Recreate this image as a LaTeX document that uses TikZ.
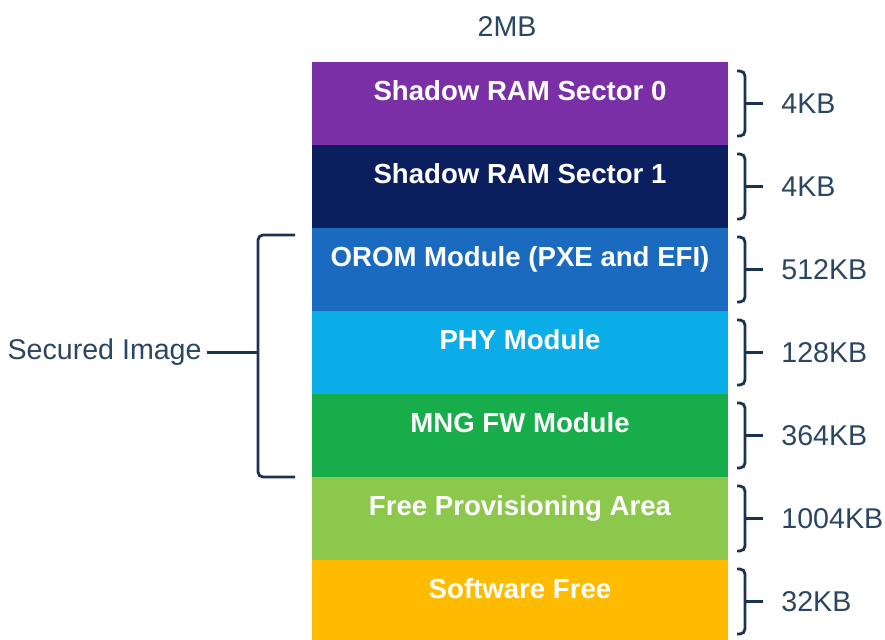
\documentclass[tikz,border=0pt]{standalone}
\usepackage{fontspec}
\setmainfont{Liberation Sans}
\usetikzlibrary{positioning}
\definecolor{ramsector0}{HTML}{7B2FA6}
\definecolor{ramsector1}{HTML}{0B1F5E}
\definecolor{orommod}{HTML}{1A6BBF}
\definecolor{phymod}{HTML}{0AADE8}
\definecolor{mngmod}{HTML}{17AD4B}
\definecolor{provarea}{HTML}{8CC84B}
\definecolor{swfree}{HTML}{FFBB00}
\definecolor{labelblue}{HTML}{2A4662}
\definecolor{braceblue}{HTML}{1A3352}
\tikzset{
  memarea/.style={minimum width=208pt,inner xsep=0pt,inner ysep=0pt,outer sep=0pt,
    text height=19pt,text depth=22.5pt,text=white,font=\bfseries\fontsize{13.8}{16}\selectfont},
  sizelabel/.style={inner sep=0pt,text=labelblue,font=\fontsize{14.3}{17}\selectfont},
  bracket/.style={draw=braceblue,line width=1.4pt,rounded corners=2.5pt}
}
\begin{document}
\begin{tikzpicture}[x=0.5pt,y=-0.5pt]
\useasboundingbox (0,0) rectangle (885,639);
% flash map
\node[memarea,fill=ramsector0,anchor=north] (b1) at (520,62) {Shadow RAM Sector 0};
\node[memarea,fill=ramsector1,below=0pt of b1] (b2) {Shadow RAM Sector 1};
\node[memarea,fill=orommod,below=0pt of b2] (b3) {OROM Module (PXE and EFI)};
\node[memarea,fill=phymod,below=0pt of b3] (b4) {PHY Module};
\node[memarea,fill=mngmod,below=0pt of b4] (b5) {MNG FW Module};
\node[memarea,fill=provarea,below=0pt of b5] (b6) {Free Provisioning Area};
\node[memarea,fill=swfree,below=0pt of b6] (b7) {Software Free};
\node[sizelabel,above=12.5pt of b1.north,xshift=-6.5pt] (total) {2MB};
% sizes
\node[sizelabel,right=26.5pt of b1.east] (s1) {4KB};
\node[sizelabel,right=26.5pt of b2.east] (s2) {4KB};
\node[sizelabel,right=26.5pt of b3.east] (s3) {512KB};
\node[sizelabel,right=26.5pt of b4.east] (s4) {128KB};
\node[sizelabel,right=26.5pt of b5.east] (s5) {364KB};
\node[sizelabel,right=26.5pt of b6.east] (s6) {1004KB};
\node[sizelabel,right=26.5pt of b7.east] (s7) {32KB};
\draw[bracket] ([shift={(9,9)}]b1.north east) -| ([shift={(17,-9)}]b1.south east) -- ++(-8,0);
\draw[bracket] ([shift={(9,9)}]b2.north east) -| ([shift={(17,-9)}]b2.south east) -- ++(-8,0);
\draw[bracket] ([shift={(9,9)}]b3.north east) -| ([shift={(17,-9)}]b3.south east) -- ++(-8,0);
\draw[bracket] ([shift={(9,9)}]b4.north east) -| ([shift={(17,-9)}]b4.south east) -- ++(-8,0);
\draw[bracket] ([shift={(9,9)}]b5.north east) -| ([shift={(17,-9)}]b5.south east) -- ++(-8,0);
\draw[bracket] ([shift={(9,9)}]b6.north east) -| ([shift={(17,-9)}]b6.south east) -- ++(-8,0);
\draw[bracket] ([shift={(9,9)}]b7.north east) -| ([shift={(17,-9)}]b7.south east) -- ++(-8,0);
\draw[bracket,shorten >=9pt] ([xshift=8.5pt]b1.east) -- (s1.west);
\draw[bracket,shorten >=9pt] ([xshift=8.5pt]b2.east) -- (s2.west);
\draw[bracket,shorten >=9pt] ([xshift=8.5pt]b3.east) -- (s3.west);
\draw[bracket,shorten >=9pt] ([xshift=8.5pt]b4.east) -- (s4.west);
\draw[bracket,shorten >=9pt] ([xshift=8.5pt]b5.east) -- (s5.west);
\draw[bracket,shorten >=9pt] ([xshift=8.5pt]b6.east) -- (s6.west);
\draw[bracket,shorten >=9pt] ([xshift=8.5pt]b7.east) -- (s7.west);
% secured part
\node[sizelabel,left=55pt of b4.west] (secured) {Secured Image};
\draw[bracket] ([shift={(-17,7)}]b3.north west) -| ([shift={(-54,0)}]b5.south west) -- ++(37,0);
\draw[bracket,shorten >=2.5pt] ([xshift=-27pt]b4.west) -- (secured.east);
\end{tikzpicture}
\end{document}
